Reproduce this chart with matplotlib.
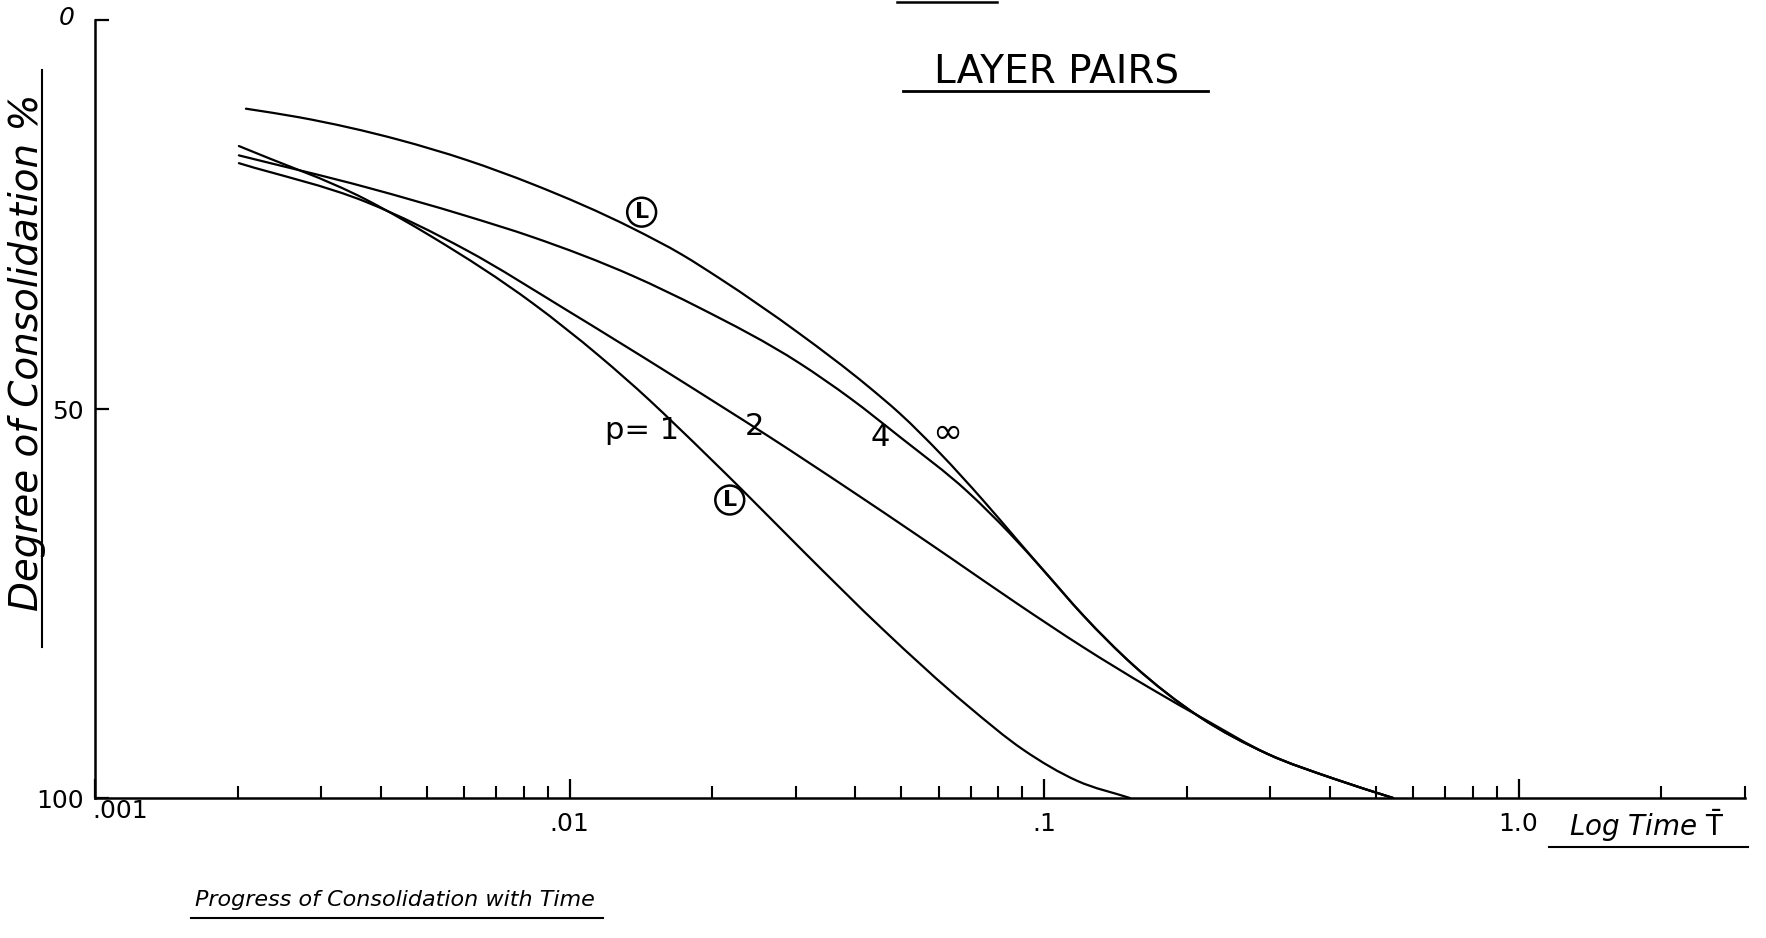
import numpy as np
import matplotlib
matplotlib.use("Agg")
import matplotlib.pyplot as plt
from matplotlib.lines import Line2D
from matplotlib.path import Path
from matplotlib.patches import PathPatch
from matplotlib.transforms import ScaledTranslation
from matplotlib.ticker import FixedLocator, NullFormatter

plt.rcParams["font.family"] = ["DejaVu Sans"]
plt.rcParams["mathtext.fontset"] = "dejavusans"

# Time factor T (log scale) and degree of consolidation U (%) for each layer-pair ratio p
t_inf = [0.00208, 0.00269, 0.00437, 0.00607, 0.00836, 0.0136, 0.0173, 0.0207, 0.0305,
         0.0424, 0.0497, 0.0604, 0.0743, 0.0877, 0.0996, 0.1208, 0.154, 0.213, 0.295,
         0.407, 0.544]
u_inf = [11.4, 12.5, 15.4, 18.0, 21.1, 26.8, 30.2, 33.2, 40.3,
         47.0, 50.6, 55.7, 61.7, 66.8, 70.7, 76.5, 82.9, 89.6, 94.3,
         97.5, 100.0]

t_p4 = [0.00201, 0.00373, 0.00607, 0.00836, 0.0136, 0.0188, 0.0305, 0.039, 0.0497,
        0.0689, 0.0847, 0.0996, 0.1208, 0.154, 0.213, 0.295, 0.407, 0.544]
u_p4 = [17.4, 21.5, 25.2, 27.9, 32.9, 37.0, 44.1, 48.6, 53.6,
        60.6, 66.0, 70.7, 76.5, 82.9, 89.6, 94.3, 97.5, 100.0]

t_p2 = [0.00201, 0.00373, 0.00607, 0.00987, 0.0160, 0.0207, 0.0261, 0.0390, 0.0540,
        0.0634, 0.0877, 0.1208, 0.1675, 0.221, 0.295, 0.407, 0.544]
u_p2 = [18.4, 23.4, 29.6, 37.3, 45.2, 49.5, 53.4, 60.4, 66.2,
        69.1, 75.0, 80.6, 85.9, 90.1, 94.3, 97.5, 100.0]

t_p1 = [0.00201, 0.00373, 0.00514, 0.00836, 0.01156, 0.01476, 0.01683, 0.0232, 0.0311,
        0.0457, 0.0689, 0.0904, 0.1175, 0.1517]
u_p1 = [16.2, 23.1, 27.9, 36.4, 43.2, 48.9, 52.2, 60.5, 68.3,
        78.3, 88.1, 93.8, 97.8, 100.0]

x_major = [0.001, 0.01, 0.1, 1.0]
x_major_labels = [".001", ".01", ".1", "1.0"]
y_ticks = [0, 50, 100]
y_tick_labels = ["0", "50", "100"]

W, H = 1766, 938
fig = plt.figure(figsize=(W / 100, H / 100), dpi=100)
fig.patch.set_facecolor("white")


def fx(px):
    return px / W


def fy(py):
    return 1 - py / H


def curve_path(t, u):
    """French-curve style path: cubic Hermite segments through the read points in log-T."""
    x = np.log10(np.asarray(t, float))
    y = np.asarray(u, float)
    h = np.diff(x)
    s = np.diff(y) / h
    m = np.empty_like(y)
    m[0], m[-1] = s[0], s[-1]
    m[1:-1] = (s[:-1] * h[1:] + s[1:] * h[:-1]) / (h[:-1] + h[1:])
    verts = [(x[0], y[0])]
    codes = [Path.MOVETO]
    for i in range(len(x) - 1):
        d = h[i] / 3.0
        verts += [(x[i] + d, y[i] + m[i] * d),
                  (x[i + 1] - d, y[i + 1] - m[i + 1] * d),
                  (x[i + 1], y[i + 1])]
        codes += [Path.CURVE4] * 3
    verts = np.array(verts)
    verts[:, 0] = 10.0 ** verts[:, 0]
    return Path(verts, codes)


ax = fig.add_axes([fx(95), fy(798), fx(1745) - fx(95), fy(20) - fy(798)])
ax.set_xscale("log")
ax.set_xlim(0.001, 3.0)
ax.set_ylim(100, 0)

for sp in ("top", "right"):
    ax.spines[sp].set_visible(False)
for sp in ("left", "bottom"):
    ax.spines[sp].set_linewidth(1.8)
    ax.spines[sp].set_color("black")

for t, u in ((t_inf, u_inf), (t_p4, u_p4), (t_p2, u_p2), (t_p1, u_p1)):
    ax.add_patch(PathPatch(curve_path(t, u), fill=False, ec="black", lw=1.6,
                           capstyle="round", joinstyle="round"))

# Axis ticks
ax.xaxis.set_major_locator(FixedLocator(x_major))
ax.set_xticklabels(x_major_labels)
minor = [m * d for d in (0.001, 0.01, 0.1) for m in range(2, 10)] + [2.0, 3.0]
ax.xaxis.set_minor_locator(FixedLocator(minor))
ax.xaxis.set_minor_formatter(NullFormatter())
ax.tick_params(axis="x", which="major", direction="in", length=14, width=1.6,
               labelsize=18, pad=10)
ax.tick_params(axis="x", which="minor", direction="in", length=9, width=1.5)
ax.set_yticks(y_ticks)
ax.set_yticklabels(y_tick_labels)
ax.tick_params(axis="y", direction="in", length=10, width=1.6, labelsize=18, pad=8)
ax.tick_params(axis="y", which="minor", left=False)

xl = ax.get_xticklabels()
xl[0].set_horizontalalignment("left")
xl[0].set_transform(xl[0].get_transform() + ScaledTranslation(-2 / 72, 9 / 72, fig.dpi_scale_trans))
yl = ax.get_yticklabels()
yl[0].set_transform(yl[0].get_transform() + ScaledTranslation(-7 / 72, 3 / 72, fig.dpi_scale_trans))
yl[0].set_style("italic")

# Curve annotations
circ = dict(boxstyle="circle,pad=0.2", fc="white", ec="black", lw=1.8)
ax.text(0.01419, 24.7, "L", fontsize=16, fontweight="bold", ha="center", va="center",
        bbox=circ)
ax.text(0.02176, 61.7, "L", fontsize=16, fontweight="bold", ha="center", va="center",
        bbox=circ)
ax.text(0.01706, 52.7, "p= 1", fontsize=22, ha="right", va="center")
ax.text(0.02456, 52.3, "2", fontsize=22, ha="center", va="center")
ax.text(0.0451, 53.6, "4", fontsize=22, ha="center", va="center")
ax.text(0.0624, 53.1, "\u221e", fontsize=26, ha="center", va="center")

# Titles and axis captions with hand-ruled underlines
fig.text(fx(1056), fy(73), "LAYER PAIRS", fontsize=28, ha="center", va="center")
fig.add_artist(Line2D([fx(903), fx(1208)], [fy(91), fy(91)], color="black", lw=2.0))

fig.text(fx(27), fy(352), "Degree of Consolidation %", fontsize=28, rotation=90,
         ha="center", va="center", style="italic")
fig.add_artist(Line2D([fx(42), fx(42)], [fy(70), fy(647)], color="black", lw=1.5))

fig.text(fx(1647), fy(826), r"Log Time $\bar{\mathrm{T}}$", fontsize=20, ha="center",
         va="center", style="italic")
fig.add_artist(Line2D([fx(1549), fx(1748)], [fy(847), fy(847)], color="black", lw=1.5))

fig.text(fx(395), fy(900), "Progress of Consolidation with Time", fontsize=16,
         ha="center", va="center", style="italic")
fig.add_artist(Line2D([fx(191), fx(603)], [fy(918), fy(918)], color="black", lw=1.5))

# Ruled stroke at the top edge of the sheet
fig.add_artist(Line2D([fx(897), fx(997)], [fy(2), fy(2)], color="black", lw=1.8))

fig.savefig("out.png", dpi=100, facecolor="white")
